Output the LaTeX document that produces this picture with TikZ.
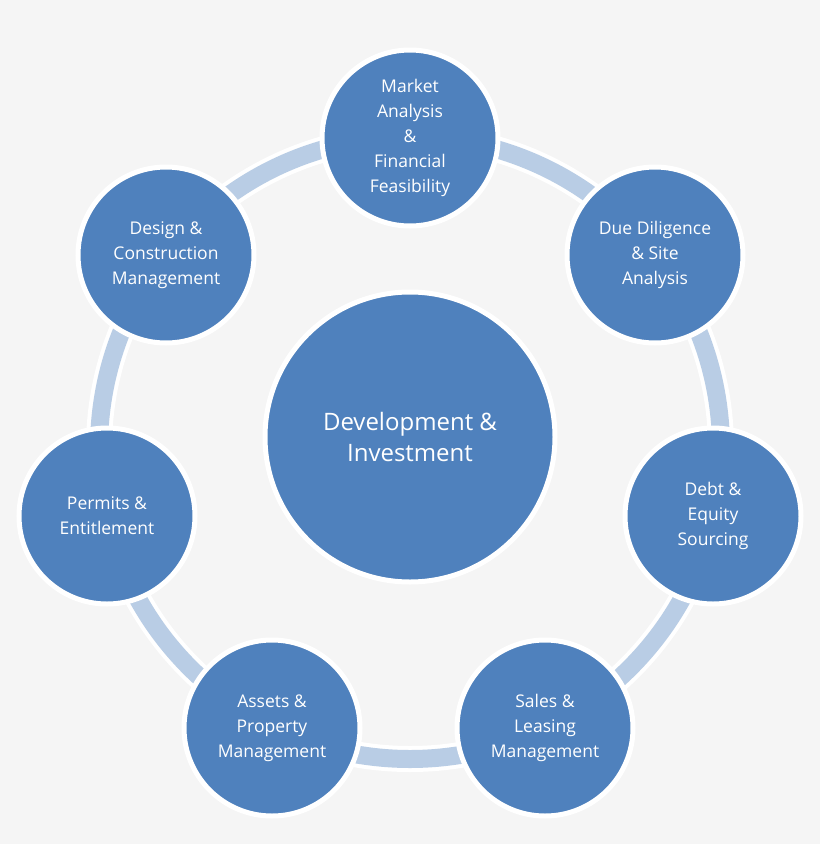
\documentclass[tikz,border=0pt]{standalone}
\usepackage{fontspec}
\setmainfont{Open Sans}
\definecolor{stepblue}{HTML}{4F81BD}
\definecolor{ringblue}{HTML}{B9CDE5}
\definecolor{bggray}{HTML}{F5F5F5}
\tikzset{
    stage/.style={circle, draw=white, line width=5pt, fill=stepblue, minimum size=176pt,
        inner sep=0pt, text=white, align=center, font=\fontsize{17.5}{25}\selectfont},
    hub/.style={stage, minimum size=290pt, font=\fontsize{24}{31}\selectfont}
}
\begin{document}
\begin{tikzpicture}[x=1pt, y=-1pt]
                \fill[bggray] (0,0) rectangle (820,844);
                \useasboundingbox (0,0) rectangle (820,844);
                \draw[white, line width=26pt] (410,448) circle (311);
                \draw[ringblue, line width=18pt] (410,448) circle (311);

                \node[hub] (hub) at (410,437) {Development \&\\Investment};

                \node[stage] (market) at (410,138) {Market\\Analysis\\\&\\Financial\\Feasibility};
                \node[stage] (due) at (655,255) {Due Diligence\\\& Site\\Analysis};
                \node[stage] (debt) at (713,516) {Debt \&\\Equity\\Sourcing};
                \node[stage] (sales) at (545,728) {Sales \&\\Leasing\\Management};
                \node[stage] (assets) at (272,728) {Assets \&\\Property\\Management};
                \node[stage] (permits) at (107,516) {Permits \&\\Entitlement};
                \node[stage] (design) at (166,255) {Design \&\\Construction\\Management};
            \end{tikzpicture}
\end{document}
